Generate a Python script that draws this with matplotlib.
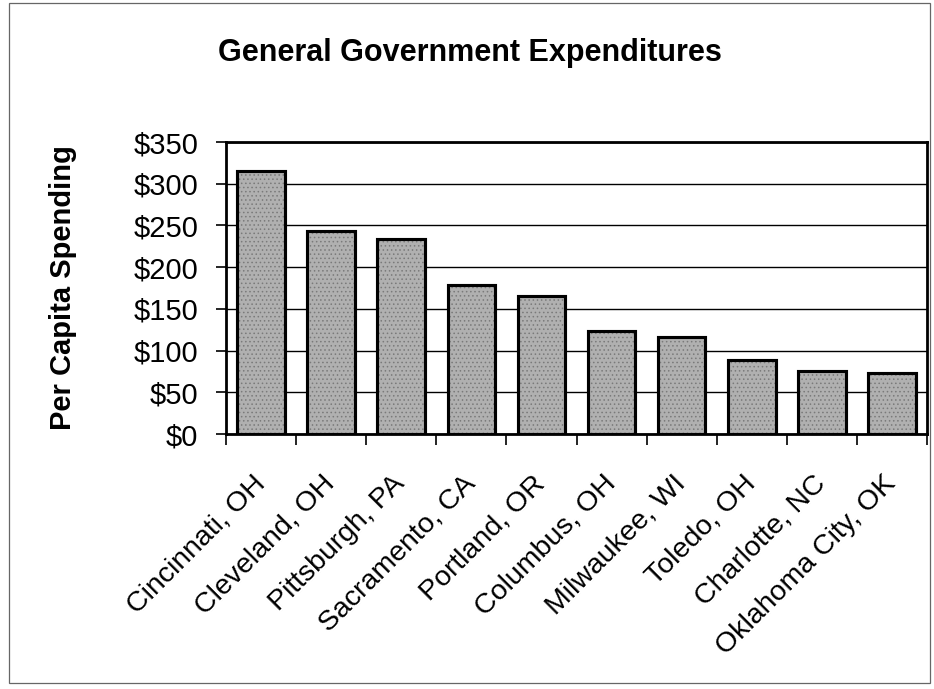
import matplotlib
matplotlib.use("Agg")
import matplotlib.pyplot as plt
from matplotlib.patches import Rectangle
from matplotlib.transforms import ScaledTranslation
import numpy as np

plt.rcParams["font.family"] = ["Liberation Sans", "DejaVu Sans"]
plt.rcParams["hatch.linewidth"] = 0.6

cities = ["Cincinnati, OH", "Cleveland, OH", "Pittsburgh, PA", "Sacramento, CA",
          "Portland, OR", "Columbus, OH", "Milwaukee, WI", "Toledo, OH",
          "Charlotte, NC", "Oklahoma City, OK"]
spending = [315, 243, 234, 178, 166, 124, 116, 89, 76, 73]
y_ticks = [0, 50, 100, 150, 200, 250, 300, 350]
y_labels = [f"${v}" for v in y_ticks]

BAR_COLOR = "#b0b0b0"
SPECKLE = "#7a7a7a"

fig = plt.figure(figsize=(9.34, 6.89), dpi=100)
# thin frame round the whole chart
fig.patches.append(Rectangle((9 / 934, 6 / 689), 921 / 934, 680 / 689,
                             transform=fig.transFigure, fill=False,
                             edgecolor="#666666", lw=0.9))

ax = fig.add_axes([226 / 934, 1 - 434 / 689, 701 / 934, 292 / 689])
x = np.arange(len(cities))
ax.bar(x, spending, width=0.68, color=BAR_COLOR, edgecolor="black", lw=2.2, zorder=3)
# halftone-like speckle on the bars
ax.bar(x, spending, width=0.68, color="none", edgecolor=SPECKLE, hatch="....",
       lw=0, zorder=3.5)
ax.bar(x, spending, width=0.68, color="none", edgecolor="black", lw=2.2, zorder=4)

ax.set_xlim(-0.5, len(cities) - 0.5)
ax.set_ylim(0, 350)
ax.set_yticks(y_ticks)
ax.set_yticklabels(y_labels, fontsize=21)
ax.yaxis.grid(True, color="black", lw=1.0, zorder=0)
ax.tick_params(axis="y", length=7, width=1.2, direction="out", pad=13)

ax.set_xticks(x)
ax.set_xticklabels(cities, rotation=45, ha="right", va="center",
                   rotation_mode="anchor", fontsize=20.5)
shift = ScaledTranslation(-6 / 100, 0, fig.dpi_scale_trans)
for lbl in ax.get_xticklabels():
    lbl.set_transform(lbl.get_transform() + shift)
ax.set_xticks(np.arange(len(cities) + 1) - 0.5, minor=True)
ax.tick_params(axis="x", which="major", length=0, pad=33)
ax.tick_params(axis="x", which="minor", length=8, width=1.2, direction="out")
for s in ax.spines.values():
    s.set_linewidth(2)
    s.set_color("black")

ax.set_ylabel("Per Capita Spending", fontsize=21, fontweight="bold")
ax.yaxis.set_label_coords(-0.213, 0.5)
fig.text(470 / 934, 1 - 53 / 689, "General Government Expenditures", ha="center",
         va="center", fontsize=22, fontweight="bold")

fig.savefig("out.png", dpi=100)
